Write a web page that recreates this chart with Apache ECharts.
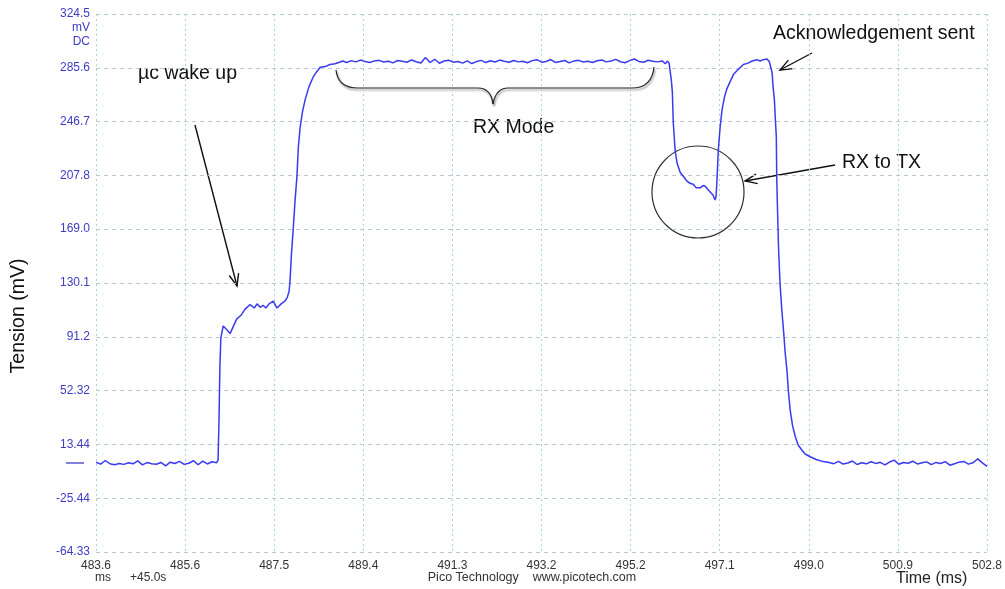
<!DOCTYPE html>
<html>
<head>
<meta charset="utf-8">
<script src="https://cdn.jsdelivr.net/npm/echarts@6/dist/echarts.min.js"></script>
<style>
  html, body { margin: 0; padding: 0; background: #fff; }
  #chartDiv { width: 1005px; height: 589px; }
</style>
</head>
<body>
<div id="chartDiv"></div>
<script>
// 初始化图表
let myChart = echarts.init(document.getElementById('chartDiv'));

// 坐标轴刻度
const xTicks = [483.6, 485.52, 487.44, 489.36, 491.28, 493.2, 495.12, 497.04, 498.96, 500.88, 502.8];
const xLabels = ['483.6', '485.6', '487.5', '489.4', '491.3', '493.2', '495.2', '497.1', '499.0', '500.9', '502.8'];
const yTicks = [-64.33, -25.44, 13.44, 52.32, 91.2, 130.1, 169.0, 207.8, 246.7, 285.6, 324.5];
const yLabels = ['-64.33', '-25.44', '13.44', '52.32', '91.2', '130.1', '169.0', '207.8', '246.7', '285.6', '324.5'];

// 示波器数据 [ms, mV]
const idleBefore = [
	[483.6, 0.5], [483.7, -0.8], [483.8, 1.8], [483.9, -0.5], [484.0, -1.2], [484.1, -0.3],
	[484.2, -1.0], [484.3, 0.2], [484.4, -0.6], [484.5, 1.5], [484.6, -1.4], [484.7, 0.3],
	[484.8, -0.5], [484.9, -0.9], [485.0, 0.4], [485.1, -2.1], [485.2, 0.6], [485.3, -0.4],
	[485.4, 1.2], [485.5, -1.0], [485.6, -0.2], [485.7, 1.7], [485.8, -1.3], [485.9, 1.4],
	[486.0, -0.7], [486.1, 0.9], [486.2, 0.2]
];
const wakeUp = [
	[486.23, 2], [486.25, 30], [486.27, 70], [486.29, 90], [486.34, 99], [486.40, 97],
	[486.49, 93.5], [486.55, 98], [486.63, 104], [486.73, 107], [486.81, 111], [486.92, 114.5],
	[487.01, 112], [487.07, 115], [487.14, 112.5], [487.20, 114], [487.26, 112], [487.33, 115],
	[487.42, 117], [487.50, 112], [487.59, 115], [487.67, 117], [487.72, 119.5], [487.76, 124],
	[487.78, 131], [487.81, 150], [487.85, 169], [487.89, 190], [487.93, 207], [487.96, 228],
	[488.00, 243], [488.05, 254], [488.11, 263], [488.19, 272], [488.28, 279], [488.36, 283],
	[488.43, 286], [488.54, 286.5], [488.64, 288], [488.75, 288.5], [488.92, 290.5]
];
const rxMode = [
	[489.0, 289.5], [489.1, 290.8], [489.2, 289.9], [489.3, 291.2], [489.4, 290.1], [489.5, 289.4],
	[489.6, 290.6], [489.7, 291.0], [489.8, 289.8], [489.9, 290.4], [490.0, 289.2], [490.1, 290.9],
	[490.2, 290.3], [490.3, 289.6], [490.4, 291.3], [490.5, 290.0], [490.6, 289.1], [490.7, 293.0],
	[490.8, 289.5], [490.9, 291.8], [491.0, 288.9], [491.1, 290.5], [491.2, 291.1], [491.3, 289.7],
	[491.4, 290.2], [491.5, 289.0], [491.6, 290.6], [491.7, 288.7], [491.8, 290.1], [491.9, 291.0],
	[492.0, 289.4], [492.1, 290.7], [492.2, 289.8], [492.3, 291.2], [492.4, 290.3], [492.5, 289.6],
	[492.6, 290.9], [492.7, 289.9], [492.8, 290.4], [492.9, 289.3], [493.0, 290.8], [493.1, 291.5],
	[493.2, 289.7], [493.3, 290.2], [493.4, 291.6], [493.5, 289.5], [493.6, 290.1], [493.7, 290.9],
	[493.8, 289.2], [493.9, 290.6], [494.0, 291.0], [494.1, 289.8], [494.2, 290.3], [494.3, 289.4],
	[494.4, 290.7], [494.5, 291.3], [494.6, 289.9], [494.7, 290.5], [494.8, 291.7], [494.9, 290.0],
	[495.0, 289.3], [495.1, 290.8], [495.2, 292.0], [495.3, 290.2], [495.4, 289.6], [495.5, 291.1],
	[495.6, 290.4], [495.7, 289.9], [495.8, 290.6]
];
const rxToTx = [
	[495.87, 288.5], [495.91, 290.5], [495.95, 289], [496.00, 276], [496.02, 268], [496.04, 246],
	[496.08, 226], [496.12, 217], [496.19, 210], [496.26, 207], [496.34, 203.5], [496.41, 202],
	[496.47, 201.5], [496.53, 199], [496.63, 199], [496.68, 200.5], [496.73, 200], [496.79, 197.5],
	[496.86, 195], [496.90, 193.5], [496.94, 190], [496.96, 192], [496.98, 203], [497.01, 226],
	[497.05, 243], [497.09, 255], [497.14, 264], [497.19, 270], [497.27, 276], [497.34, 281],
	[497.44, 284.5], [497.55, 288], [497.65, 289], [497.74, 290.5], [497.84, 291.5], [497.91, 290.5],
	[497.98, 291.5], [498.06, 292], [498.11, 290], [498.17, 282], [498.19, 272], [498.22, 262],
	[498.24, 248], [498.26, 236], [498.27, 205], [498.29, 178], [498.31, 154], [498.34, 130],
	[498.38, 110], [498.42, 94], [498.45, 80], [498.49, 67], [498.52, 52], [498.56, 38],
	[498.61, 27], [498.67, 19], [498.73, 13], [498.81, 9.4], [498.88, 6.5], [498.99, 4.5],
	[499.12, 2.5], [499.27, 1.0]
];
const idleAfter = [
	[499.4, 0.3], [499.5, -0.5], [499.6, 1.2], [499.7, -0.8], [499.8, 0.0], [499.9, 1.4],
	[500.0, -1.1], [500.1, 0.2], [500.2, -0.6], [500.3, 0.9], [500.4, -0.3], [500.5, 0.5],
	[500.6, -1.4], [500.7, 0.7], [500.8, 2.1], [500.9, -0.9], [501.0, 0.4], [501.1, -0.2],
	[501.2, 1.3], [501.3, -0.7], [501.4, 0.1], [501.5, 0.8], [501.6, -1.2], [501.7, 0.4],
	[501.8, -0.4], [501.9, 1.0], [502.0, -1.6], [502.1, -0.5], [502.2, 0.6], [502.3, 1.1],
	[502.4, -0.8], [502.5, 0.2], [502.6, 3.0], [502.7, 0.1], [502.8, -2.4]
];

let trace = [].concat(idleBefore, wakeUp, rxMode, rxToTx, idleAfter);

const font = '"Liberation Sans", Arial, sans-serif';

// 箭头
function arrow(x1, y1, x2, y2) {
	let a = Math.atan2(y2 - y1, x2 - x1);
	let len = 13, spread = 0.38;
	return {
		type: 'group',
		children: [
			{type: 'line', shape: {x1, y1, x2, y2}, style: {stroke: '#111', lineWidth: 1.4}},
			{
				type: 'polyline',
				shape: {points: [
					[x2 - len * Math.cos(a - spread), y2 - len * Math.sin(a - spread)],
					[x2, y2],
					[x2 - len * Math.cos(a + spread), y2 - len * Math.sin(a + spread)]
				]},
				style: {stroke: '#111', lineWidth: 1.4, fill: null}
			}
		]
	};
}

function label(text, x, y, size, extra) {
	return {
		type: 'text', x, y,
		style: Object.assign({text, font: size + 'px ' + font, fill: '#111', textVerticalAlign: 'middle'}, extra || {})
	};
}

// 花括号
function brace() {
	let st = {stroke: '#222', lineWidth: 1.2, fill: null, shadowColor: 'rgba(0,0,0,0.45)', shadowBlur: 2, shadowOffsetX: 1, shadowOffsetY: 2};
	let q = (x1, y1, cpx1, cpy1, x2, y2) => ({type: 'bezierCurve', shape: {x1, y1, cpx1, cpy1, x2, y2}, style: st});
	return {
		type: 'group',
		children: [
			q(336, 70, 338, 88, 358, 88),
			{type: 'line', shape: {x1: 358, y1: 88, x2: 478, y2: 88}, style: st},
			q(478, 88, 491, 88, 493, 104),
			q(493, 104, 496, 88, 508, 88),
			{type: 'line', shape: {x1: 508, y1: 88, x2: 632, y2: 88}, style: st},
			q(632, 88, 652, 88, 654, 67)
		]
	};
}

let option = {
	backgroundColor: '#fff',
	animation: false,
	grid: {left: 96, right: 18, top: 14, bottom: 37},
	xAxis: {
		type: 'value',
		min: 483.6,
		max: 502.8,
		axisLine: {show: false},
		axisTick: {show: false, customValues: xTicks},
		axisLabel: {
			customValues: xTicks,
			color: '#333',
			fontSize: 12,
			fontFamily: font,
			margin: 8,
			formatter: (v) => xLabels[xTicks.indexOf(v)]
		},
		splitLine: {show: true, lineStyle: {color: '#a9d4de', type: [2, 3], width: 1}}
	},
	yAxis: {
		type: 'value',
		min: -64.33,
		max: 324.5,
		axisLine: {show: false},
		axisTick: {show: false, customValues: yTicks},
		axisLabel: {
			customValues: yTicks,
			color: '#3d3dc4',
			fontSize: 12,
			fontFamily: font,
			margin: 6,
			formatter: (v) => yLabels[yTicks.indexOf(v)]
		},
		splitLine: {show: true, lineStyle: {color: '#b9cad6', type: [4, 4], width: 1}}
	},
	series: [{
		type: 'line',
		data: trace,
		showSymbol: false,
		lineStyle: {color: '#3a3af0', width: 1.5},
		z: 5
	}],
	graphic: [
		label('mV', 90, 28, 12, {fill: '#3d3dc4', textAlign: 'right'}),
		label('DC', 90, 42, 12, {fill: '#3d3dc4', textAlign: 'right'}),
		{
			type: 'text', x: 19, y: 316, rotation: Math.PI / 2,
			style: {text: 'Tension (mV)', font: '19.5px ' + font, fill: '#111', textAlign: 'center', textVerticalAlign: 'middle'}
		},
		label('µc wake up', 138, 74, 19.5),
		arrow(195, 125, 237, 286),
		brace(),
		label('RX Mode', 473, 128, 19.5),
		{type: 'circle', shape: {cx: 698, cy: 192, r: 46}, style: {stroke: '#333', lineWidth: 1.2, fill: null}},
		label('RX to TX', 842, 163, 19.5),
		arrow(835, 165, 745, 181),
		label('Acknowledgement sent', 773, 34, 19.5),
		arrow(812, 53, 780, 70),
		label('ms', 95, 578, 12, {fill: '#333'}),
		label('+45.0s', 130, 578, 12, {fill: '#333'}),
		label('Pico Technology    www.picotech.com', 532, 578, 12.5, {fill: '#333', textAlign: 'center'}),
		label('Time (ms)', 896, 579, 16, {fill: '#222'})
	]
};
myChart.setOption(option);

// 零电平标记
let zeroY = myChart.convertToPixel({yAxisIndex: 0}, 0);
option.graphic.push({type: 'line', shape: {x1: 66, y1: zeroY, x2: 84, y2: zeroY}, style: {stroke: '#3d3dc4', lineWidth: 1.3}});
myChart.setOption({graphic: option.graphic});
</script>
</body>
</html>
